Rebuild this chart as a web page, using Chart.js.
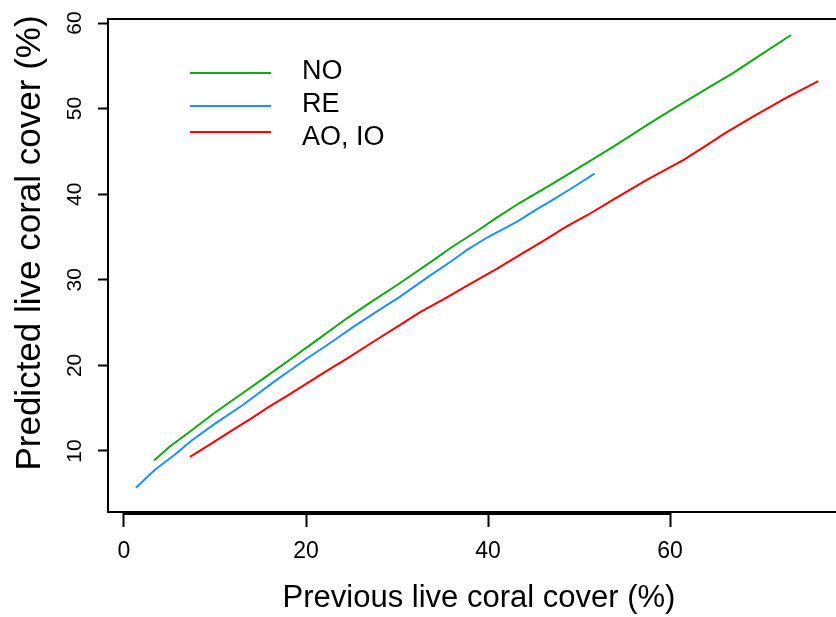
<!DOCTYPE html>
<html>
<head>
<meta charset="utf-8">
<script src="https://cdn.jsdelivr.net/npm/chart.js@4"></script>
<style>
  body { margin: 0; background: #fff; }
  #wrap { width: 836px; height: 617px; }
</style>
</head>
<body>
<div id="wrap"><canvas id="coverChart" width="836" height="617"></canvas></div>
<script>
// tick labels
const xTicks = [0, 20, 40, 60];
const yTicks = [10, 20, 30, 40, 50, 60];

// series names, in legend order
const seriesNames = ['NO', 'RE', 'AO, IO'];
const seriesColors = ['#10AA10', '#1E90FF', '#FF0000'];

// NO
const noX = [3.3, 5, 7.4, 10, 13.1, 15.5, 18.4, 21, 24.5, 27, 30.3, 34.0, 36, 38.8, 41, 43.5, 47.2, 51.4, 54, 57.8, 60.7, 64, 67.0, 70, 73.3];
const noY = [8.9, 10.5, 12.4, 14.5, 16.8, 18.6, 20.8, 22.8, 25.5, 27.3, 29.6, 32.3, 33.8, 35.7, 37.3, 39.0, 41.3, 44.0, 45.7, 48.3, 50.2, 52.3, 54.2, 56.3, 58.6];

// RE
const reX = [1.3, 3.4, 5.5, 7.4, 10, 13.1, 16.5, 20.1, 22.5, 25.2, 27.8, 30.3, 33.5, 36, 37.7, 40, 43.2, 45.3, 47.2, 49.5, 51.7];
const reY = [5.7, 7.8, 9.5, 11.2, 13.2, 15.4, 18.1, 20.8, 22.5, 24.5, 26.3, 28.0, 30.4, 32.2, 33.5, 35.0, 36.8, 38.2, 39.4, 40.9, 42.4];

// AO, IO
const aoX = [7.25, 9.5, 12.0, 14, 16.0, 18, 20.1, 22.5, 24.5, 27, 30.3, 32.5, 35.1, 38, 41.0, 43.5, 46, 48.6, 51, 53.8, 57.5, 61.5, 64, 66.0, 69.5, 73.0, 76.3];
const aoY = [9.3, 10.8, 12.5, 13.8, 15.2, 16.5, 17.9, 19.5, 20.8, 22.5, 24.7, 26.2, 27.7, 29.5, 31.3, 32.9, 34.5, 36.2, 37.6, 39.4, 41.7, 44.0, 45.7, 47.1, 49.3, 51.4, 53.2];

const FONT = "'Liberation Sans', Arial, sans-serif";

function toPoints(xs, ys) {
    return xs.map((x, i) => ({ x: x, y: ys[i] }));
}

// box, axis line, rotated y labels, titles and legend drawn R-style
const rFrame = {
    id: 'rFrame',
    afterDraw(chart) {
        const ctx = chart.ctx;
        const area = chart.chartArea;
        const xs = chart.scales.x;
        const ys = chart.scales.y;

        ctx.save();
        ctx.strokeStyle = '#000';
        ctx.lineWidth = 2;
        ctx.beginPath();
        ctx.moveTo(area.right, area.top);
        ctx.lineTo(area.left, area.top);
        ctx.lineTo(area.left, area.bottom);
        ctx.lineTo(area.right, area.bottom);
        ctx.stroke();

        // x axis line across the ticks
        ctx.beginPath();
        ctx.moveTo(xs.getPixelForValue(xTicks[0]), area.bottom + 2);
        ctx.lineTo(xs.getPixelForValue(xTicks[xTicks.length - 1]), area.bottom + 2);
        ctx.stroke();

        ctx.fillStyle = '#000';

        // y tick labels, rotated
        ctx.font = '21px ' + FONT;
        ctx.textAlign = 'center';
        ctx.textBaseline = 'middle';
        yTicks.forEach(v => {
            ctx.save();
            ctx.translate(area.left - 33, ys.getPixelForValue(v));
            ctx.rotate(-Math.PI / 2);
            ctx.fillText(String(v), 0, 0);
            ctx.restore();
        });

        // axis titles
        ctx.save();
        ctx.font = '35px ' + FONT;
        ctx.translate(30, 243);
        ctx.rotate(-Math.PI / 2);
        ctx.fillText('Predicted live coral cover (%)', 0, 0);
        ctx.restore();

        ctx.font = '31px ' + FONT;
        ctx.fillText('Previous live coral cover (%)', 479, 598);

        // legend
        const lineY = [73, 106, 132];
        const textY = [72, 105, 138];
        ctx.font = '27px ' + FONT;
        ctx.textAlign = 'left';
        chart.data.datasets.forEach((ds, i) => {
            ctx.strokeStyle = ds.borderColor;
            ctx.lineWidth = 2;
            ctx.beginPath();
            ctx.moveTo(190, lineY[i]);
            ctx.lineTo(271, lineY[i]);
            ctx.stroke();
            ctx.fillText(ds.label, 302, textY[i]);
        });
        ctx.restore();
    }
};

const seriesX = [noX, reX, aoX];
const seriesY = [noY, reY, aoY];

const ctx = document.getElementById('coverChart').getContext('2d');
const coverChart = new Chart(ctx, {
    type: 'scatter',
    data: {
        datasets: seriesNames.map((name, i) => ({
            label: name,
            data: toPoints(seriesX[i], seriesY[i]),
            showLine: true,
            borderColor: seriesColors[i],
            backgroundColor: seriesColors[i],
            borderWidth: 2,
            pointRadius: 0,
            tension: 0
        }))
    },
    options: {
        responsive: false,
        animation: false,
        devicePixelRatio: 1,
        layout: { padding: { top: 19, left: 0, right: 0, bottom: 0 } },
        plugins: {
            legend: { display: false },
            tooltip: { enabled: false }
        },
        scales: {
            x: {
                type: 'linear',
                min: -1.758,
                max: 78.24,
                afterBuildTicks: s => { s.ticks = xTicks.map(v => ({ value: v })); },
                afterFit: s => { s.height = 105; },
                border: { display: false },
                grid: { drawOnChartArea: false, tickLength: 15, tickWidth: 2, tickColor: '#000' },
                ticks: { color: '#000', font: { size: 23, family: FONT }, padding: 11, maxRotation: 0, autoSkip: false }
            },
            y: {
                type: 'linear',
                min: 2.87,
                max: 60.47,
                afterBuildTicks: s => { s.ticks = yTicks.map(v => ({ value: v })); },
                afterFit: s => { s.width = 108; },
                border: { display: false },
                grid: { drawOnChartArea: false, tickLength: 10, tickWidth: 2, tickColor: '#000' },
                ticks: { display: false }
            }
        }
    },
    plugins: [rFrame]
});
</script>
</body>
</html>
